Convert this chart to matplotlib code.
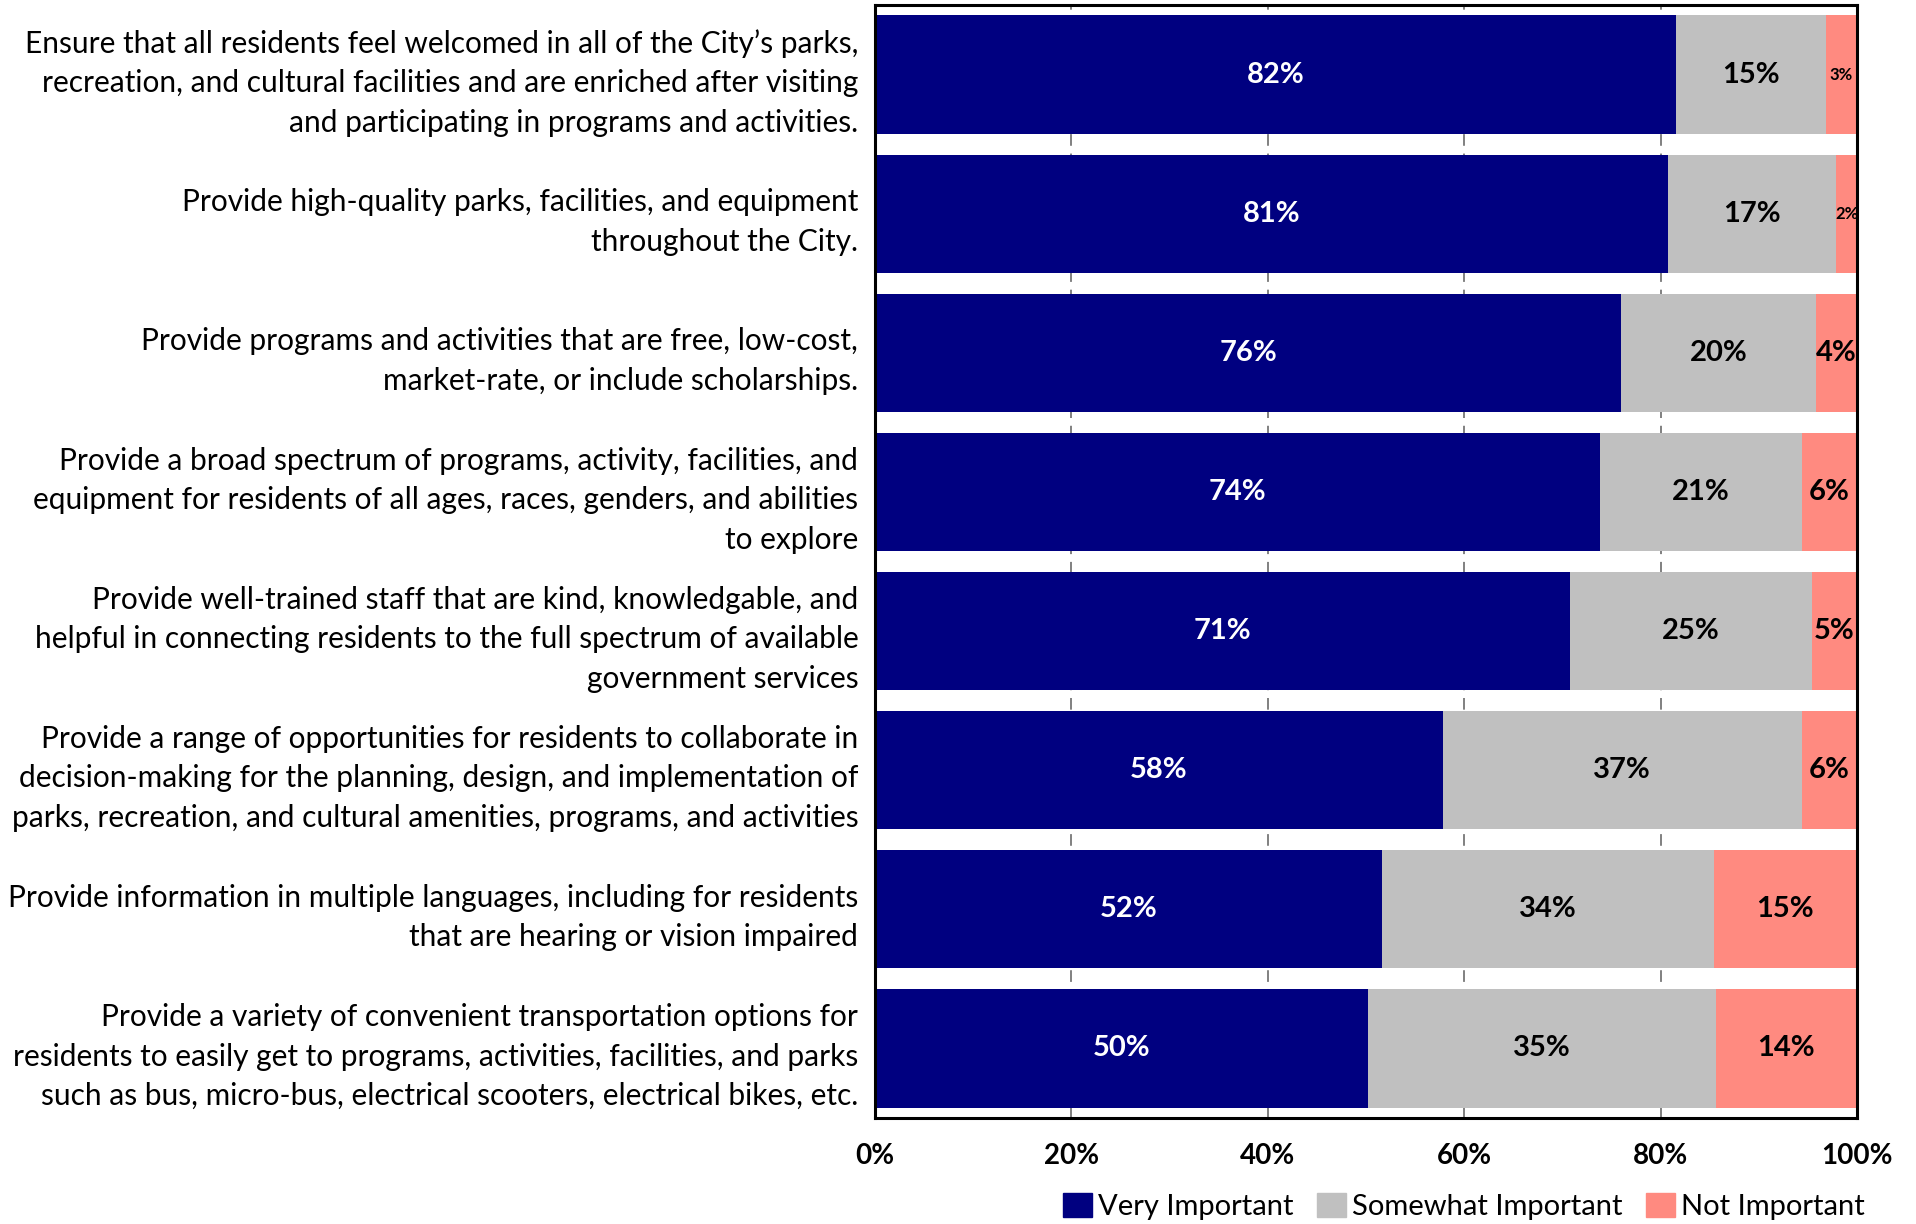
import numpy as np
import matplotlib.pyplot as plt
from matplotlib.patches import Patch

plt.rcParams['font.family'] = ['Lato', 'DejaVu Sans']

categories = [
    "Ensure that all residents feel welcomed in all of the City\u2019s parks,\nrecreation, and cultural facilities and are enriched after visiting\nand participating in programs and activities.",
    "Provide high-quality parks, facilities, and equipment\nthroughout the City.",
    "Provide programs and activities that are free, low-cost,\nmarket-rate, or include scholarships.",
    "Provide a broad spectrum of programs, activity, facilities, and\nequipment for residents of all ages, races, genders, and abilities\nto explore",
    "Provide well-trained staff that are kind, knowledgable, and\nhelpful in connecting residents to the full spectrum of available\ngovernment services",
    "Provide a range of opportunities for residents to collaborate in\ndecision-making for the planning, design, and implementation of\nparks, recreation, and cultural amenities, programs, and activities",
    "Provide information in multiple languages, including for residents\nthat are hearing or vision impaired",
    "Provide a variety of convenient transportation options for\nresidents to easily get to programs, activities, facilities, and parks\nsuch as bus, micro-bus, electrical scooters, electrical bikes, etc.",
]
very_important = [81.6, 80.8, 76.0, 73.8, 70.8, 57.8, 51.6, 50.2]
somewhat_important = [15.2, 17.1, 19.8, 20.6, 24.6, 36.6, 33.8, 35.4]
not_important = [3.2, 2.1, 4.2, 5.6, 4.6, 5.6, 14.6, 14.4]
series_names = ["Very Important", "Somewhat Important", "Not Important"]
colors = ["#000080", "#C0C0C0", "#FF8A80"]
text_colors = ["white", "black", "black"]
xticks = [0, 20, 40, 60, 80, 100]

fig = plt.figure(figsize=(19.16, 12.24), dpi=100)
ax = fig.add_axes([0.4567, 0.0866, 0.5125, 0.9093])

y = np.arange(len(categories))
left = np.zeros(len(categories))
for vals, name, col, tc in zip([very_important, somewhat_important, not_important],
                               series_names, colors, text_colors):
    vals = np.array(vals)
    bars = ax.barh(y, vals, left=left, height=0.85, color=col, label=name, zorder=2)
    for b, v in zip(bars, vals):
        cx = b.get_x() + b.get_width() / 2
        cy = b.get_y() + b.get_height() / 2
        fs = 12 if v < 3.5 else 21
        ax.text(cx, cy, f"{v:.0f}%", ha='center', va='center', color=tc,
                fontsize=fs, fontweight='bold', zorder=3)
    left += vals

ax.set_xlim(0, 100)
ax.set_ylim(len(categories) - 0.5, -0.5)
ax.set_yticks(y)
ax.set_yticklabels(categories, fontsize=21.5, linespacing=1.5)
ax.set_xticks(xticks)
ax.set_xticklabels([f"{t}%" for t in xticks], fontsize=20, fontweight='bold')
ax.tick_params(axis='both', length=0)
ax.tick_params(axis='x', pad=18)
ax.tick_params(axis='y', pad=12)
ax.xaxis.grid(True, color='#808080', linewidth=1.4, linestyle=(0, (6, 4)), zorder=0)
ax.set_axisbelow(True)
for s in ax.spines.values():
    s.set_linewidth(2.2)
    s.set_color('black')

handles = [Patch(color=c, label=n) for c, n in zip(colors, series_names)]
fig.legend(handles=handles, loc='center', bbox_to_anchor=(0.764, 0.014), ncol=3,
           frameon=False, fontsize=21, handlelength=1.0, handleheight=0.9,
           handletextpad=0.2, columnspacing=0.8, borderaxespad=0)

fig.savefig("out.png", dpi=100)
